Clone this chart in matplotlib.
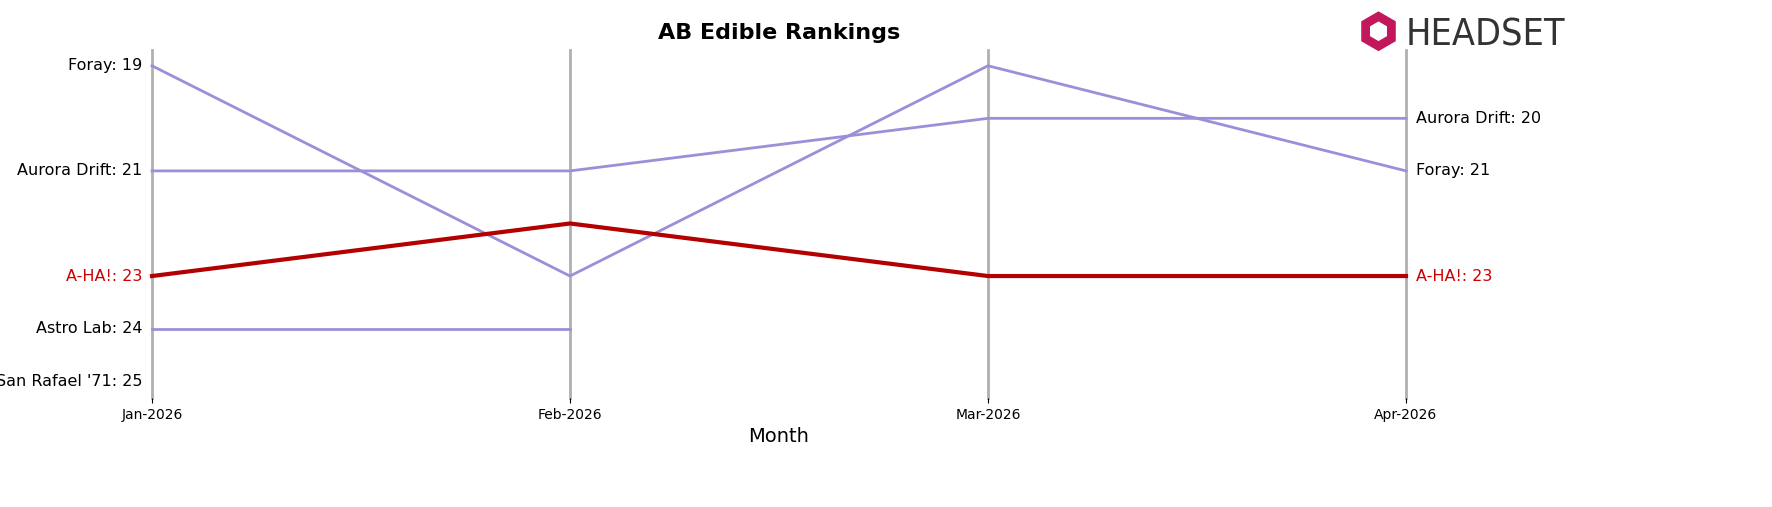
import matplotlib.pyplot as plt
from matplotlib.patches import RegularPolygon

months = ['Jan-2026', 'Feb-2026', 'Mar-2026', 'Apr-2026']
brands = ['Foray', 'Aurora Drift', 'A-HA!', 'Astro Lab', "San Rafael '71"]
ranks = {
    'Foray': [19, 23, 19, 21],
    'Aurora Drift': [21, 21, 20, 20],
    'A-HA!': [23, 22, 23, 23],
    'Astro Lab': [24, 24, None, None],
    "San Rafael '71": [25, None, None, None],
}
highlight = 'A-HA!'

fig = plt.figure(figsize=(17.72, 5.07), dpi=100)
ax = fig.add_axes([152/1772, 1-398/507, (1406-152)/1772, (398-50)/507])
ax.set_xlim(0, 3)
ax.set_ylim(25.32, 18.7)

for i in range(len(months)):
    ax.axvline(i, color='#b0b0b0', lw=2, zorder=0, clip_on=False)

for b in brands:
    pts = [(i, r) for i, r in enumerate(ranks[b]) if r is not None]
    xs = [p[0] for p in pts]
    ys = [p[1] for p in pts]
    hl = b == highlight
    col = '#b30000' if hl else '#9b8fd9'
    ax.plot(xs, ys, color=col, lw=3 if hl else 2, zorder=3 if hl else 2, clip_on=False)
    tc = '#cc0000' if hl else 'black'
    ax.annotate(f'{b}: {ys[0]}', (xs[0], ys[0]), xytext=(-7, 0), textcoords='offset points',
                ha='right', va='center', fontsize=11.5, color=tc)
    if xs[-1] == 3:
        ax.annotate(f'{b}: {ys[-1]}', (3, ys[-1]), xytext=(7, 0), textcoords='offset points',
                    ha='left', va='center', fontsize=11.5, color=tc)

ax.set_xticks(range(len(months)))
ax.set_xticklabels(months, fontsize=10)
ax.set_yticks([])
for s in ax.spines.values():
    s.set_visible(False)
ax.set_xlabel('Month', fontsize=14)
fig.text(779/1772, 1-33/507, 'AB Edible Rankings', ha='center', va='center',
         fontsize=16, fontweight='bold')

# logo
fig.text(1406/1772, 1-35/507, 'HEADSET', ha='left', va='center', fontsize=27,
         color='#333333', fontstretch='condensed')
lax = fig.add_axes([1356/1772, 1-56/507, 45/1772, 45/507])
lax.set_xlim(-1, 1); lax.set_ylim(-1, 1); lax.axis('off')
lax.add_patch(RegularPolygon((0, 0.1), 6, radius=0.85, color='#c2185b'))
lax.add_patch(RegularPolygon((0, 0.1), 6, radius=0.4, color='white'))

fig.savefig('out.png', dpi=100)
